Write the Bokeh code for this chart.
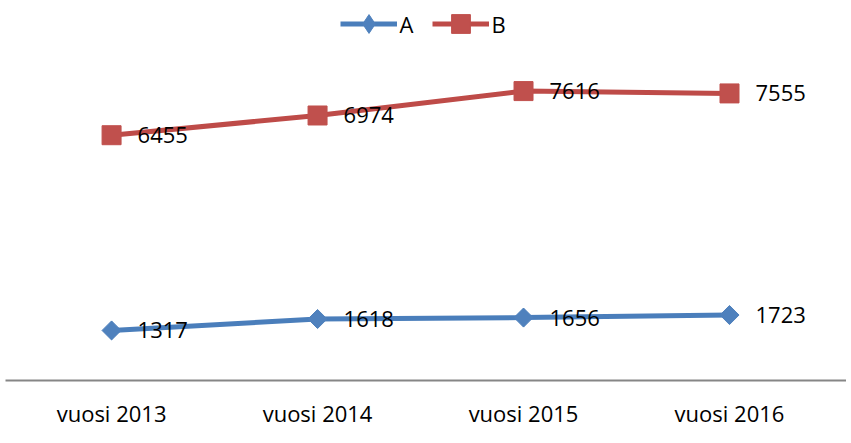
import math
from bokeh.plotting import figure
from bokeh.models import Range1d, FixedTicker, Legend, LegendItem, ColumnDataSource
from bokeh.core.properties import value
from bokeh.embed import file_html
from bokeh.resources import INLINE

categories = ["vuosi 2013", "vuosi 2014", "vuosi 2015", "vuosi 2016"]
series_a = [1317, 1618, 1656, 1723]
series_b = [6455, 6974, 7616, 7555]

FONT = "Open Sans"
BLUE = "#4A7EBB"
BLUE_M = "#4F81BD"
RED = "#BE4B48"
RED_M = "#C0504D"

xs = list(range(len(categories)))

p = figure(width=846, height=430, output_backend="svg", toolbar_location=None,
           x_range=Range1d(-0.515, 3.568), y_range=Range1d(0, 10000),
           y_axis_location=None, min_border_left=5, min_border_right=0,
           min_border_top=0, min_border_bottom=0)
p.outline_line_color = None
p.grid.visible = False
p.background_fill_color = "white"
p.border_fill_color = "white"

src_a = ColumnDataSource(dict(x=xs, y=series_a, t=[str(v) for v in series_a]))
src_b = ColumnDataSource(dict(x=xs, y=series_b, t=[str(v) for v in series_b]))

la = p.line("x", "y", source=src_a, line_color=BLUE, line_width=5)
# diamond used for the legend glyph; fully covered by the rotated square below
leg_a = p.scatter("x", "y", source=src_a, marker="diamond", size=18,
                  fill_color=BLUE_M, line_color=BLUE_M)
ma = p.scatter("x", "y", source=src_a, marker="square", size=13.5, angle=math.pi / 4,
               fill_color=BLUE_M, line_color=BLUE_M)
lb = p.line("x", "y", source=src_b, line_color=RED, line_width=5)
mb = p.scatter("x", "y", source=src_b, marker="square", size=19,
               fill_color=RED_M, line_color=RED_M)

for src in (src_a, src_b):
    p.text("x", "y", text="t", source=src, x_offset=26, text_baseline="middle",
           text_align="left", text_font=value(FONT), text_font_size="22px",
           text_color="black")

ax = p.xaxis[0]
ax.ticker = FixedTicker(ticks=xs)
ax.major_label_overrides = {i: c for i, c in zip(xs, categories)}
ax.major_tick_line_color = None
ax.minor_tick_line_color = None
ax.axis_line_color = "#868686"
ax.axis_line_width = 2
ax.major_label_text_font = FONT
ax.major_label_text_font_size = "22px"
ax.major_label_text_color = "black"
ax.major_label_standoff = 11

legend = Legend(items=[LegendItem(label="A", renderers=[la, leg_a]),
                       LegendItem(label="B", renderers=[lb, mb])],
                location="top_center", orientation="horizontal",
                glyph_width=57, glyph_height=47, label_standoff=3, spacing=12,
                padding=0, margin=0, border_line_color=None,
                background_fill_alpha=0, label_text_font=FONT,
                label_text_font_size="22px", label_text_color="black",
                label_height=20)
p.add_layout(legend, "center")

open("out.html", "w").write(file_html(p, INLINE))
